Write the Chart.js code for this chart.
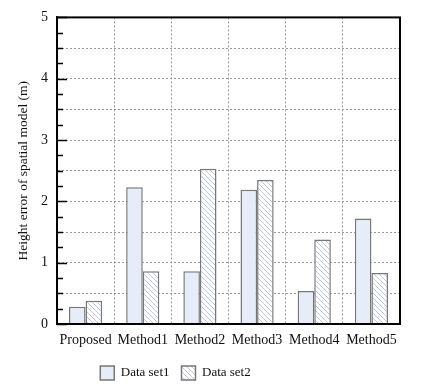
<!DOCTYPE html>
<html lang="en">
  <head>
    <meta charset="UTF-8" />
    <title>Height error chart</title>
    <style>
      html, body { margin: 0; padding: 0; background: #fff; }
      .container { width: 424px; height: 392px; }
    </style>
  </head>
  <body>
    <div class="container">
      <canvas id="myChart"></canvas>
    </div>
  </body>
  <script src="https://cdn.jsdelivr.net/npm/chart.js"></script>
  <script>
    const methods = ['Proposed', 'Method1', 'Method2', 'Method3', 'Method4', 'Method5'];
    const set1 = [0.28, 2.23, 0.86, 2.19, 0.54, 1.72];
    const set2 = [0.38, 0.86, 2.53, 2.35, 1.38, 0.83];
    const seriesNames = ['Data set1', 'Data set2'];
    const yTitle = 'Height error of spatial model (m)';

    // diagonal hatch for the second data set
    const hatch = (() => {
      const s = 5;
      const c = document.createElement('canvas');
      c.width = s; c.height = s;
      const g = c.getContext('2d');
      g.fillStyle = '#fff';
      g.fillRect(0, 0, s, s);
      g.strokeStyle = '#bcc7de';
      g.lineWidth = 1;
      g.beginPath();
      g.moveTo(-1, -1); g.lineTo(s + 1, s + 1);
      g.moveTo(-s - 1, -1); g.lineTo(1, s + 1);
      g.moveTo(s - 1, -1); g.lineTo(2 * s + 1, s + 1);
      g.stroke();
      return g.createPattern(c, 'repeat');
    })();

    // frame + inward ticks on the left axis, legend nudged left
    const frame = {
      id: 'frame',
      afterLayout(chart) {
        chart.legend.left -= 32;
        chart.legend.right -= 32;
      },
      afterDraw(chart) {
        const { ctx, chartArea: a, scales } = chart;
        ctx.save();
        ctx.strokeStyle = '#000';
        ctx.lineWidth = 1.5;
        for (let v = 0; v <= 5; v += 0.25) {
          const y = Math.round(scales.y.getPixelForValue(v)) + 0.5;
          const len = Number.isInteger(v) ? 10 : 6;
          ctx.beginPath();
          ctx.moveTo(a.left, y);
          ctx.lineTo(a.left + len, y);
          ctx.stroke();
        }
        ctx.lineWidth = 2;
        ctx.strokeRect(a.left, a.top, a.right - a.left, a.bottom - a.top);
        ctx.restore();
      },
    };

    const serif = 'Liberation Serif, Times New Roman, serif';

    new Chart(document.getElementById('myChart'), {
      type: 'bar',
      data: {
        labels: methods,
        datasets: [
          {
            label: seriesNames[0],
            data: set1,
            backgroundColor: '#e6ecf8',
            borderColor: '#777',
            borderWidth: 1.5,
          },
          {
            label: seriesNames[1],
            data: set2,
            backgroundColor: hatch,
            borderColor: '#777',
            borderWidth: 1.5,
          },
        ],
      },
      options: {
        responsive: true,
        maintainAspectRatio: false,
        animation: false,
        layout: { padding: { left: 15, right: 24, top: 8, bottom: 2 } },
        datasets: { bar: { categoryPercentage: 0.58, barPercentage: 1 } },
        plugins: {
          tooltip: { enabled: false },
          legend: {
            position: 'bottom',
            labels: {
              color: '#111',
              font: { family: serif, size: 13 },
              boxWidth: 14,
              boxHeight: 14,
              padding: 12,
            },
          },
        },
        scales: {
          x: {
            grid: {
              offset: true,
              color: '#999',
              drawTicks: false,
            },
            border: { color: '#000', width: 2, dash: [2, 2] },
            ticks: {
              color: '#111',
              padding: 8,
              maxRotation: 0,
              minRotation: 0,
              autoSkip: false,
              font: { family: serif, size: 14 },
            },
            afterFit(scale) { scale.height = 30; },
          },
          y: {
            min: 0,
            max: 5,
            grid: {
              color: (c) => (c.tick && Math.abs(c.tick.value * 2 - Math.round(c.tick.value * 2)) < 1e-6 ? '#999' : 'rgba(0,0,0,0)'),
              drawTicks: false,
            },
            border: { color: '#000', width: 2, dash: [2, 2] },
            ticks: {
              stepSize: 0.25,
              autoSkip: false,
              color: '#111',
              padding: 9,
              font: { family: serif, size: 14 },
              callback: (v) => (Number.isInteger(v) ? v : ''),
            },
            title: {
              display: true,
              text: yTitle,
              color: '#111',
              font: { family: serif, size: 13.5 },
              padding: 0,
            },
            afterFit(scale) { scale.width = 42; },
          },
        },
      },
      plugins: [frame],
    });
  </script>
</html>
